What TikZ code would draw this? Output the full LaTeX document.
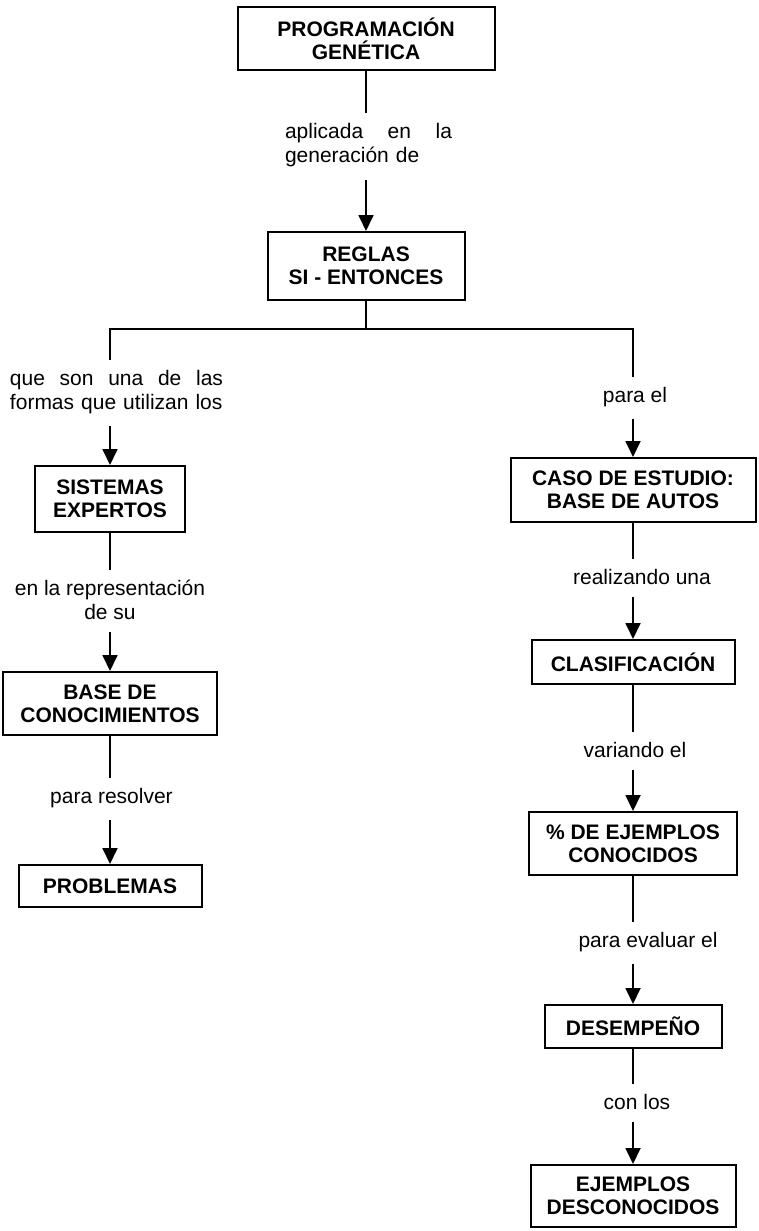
\documentclass[tikz,border=0pt]{standalone}
\usepackage{fontspec}
\setmainfont{Liberation Sans}
\usetikzlibrary{
  arrows.meta,
  positioning
}

\begin{document}
\begin{tikzpicture}[
    x=0.5pt, y=-0.5pt,
    >={Triangle[length=8pt,width=7.5pt]},
    caja/.style={draw, line width=1pt, align=center, inner sep=0pt,
      font=\fontsize{10.5}{11.5}\selectfont\bfseries},
    texto/.style={inner sep=0pt, align=center,
      font=\fontsize{10.5}{12}\selectfont},
    linea/.style={line width=0.9pt, shorten >=5pt},
    flecha/.style={->, line width=0.9pt, shorten <=6pt}
    ]
    
    \useasboundingbox (0,0) rectangle (759,1231);
    
    % centro
    \node[caja, minimum width=128.5pt, minimum height=31.5pt]
    (prog) at (366,38.5) {PROGRAMACIÓN\\GENÉTICA};
    
    \node[texto, text width=83.5pt, align=left]
    (laplicada) at (368.5,145.5) {aplicada\hfill en\hfill la\\generación de};
    
    \node[caja, minimum width=98.5pt, minimum height=34pt]
    (reglas) at (366,266) {REGLAS\\SI - ENTONCES};
    
    \coordinate (rama) at (366,329);
    
    % rama izquierda
    \node[texto, text width=106.5pt, align=left]
    (lqueson) at (116.5,392) {que\hfill son\hfill una\hfill de\hfill las\\formas que utilizan los};
    
    \node[caja, minimum width=75pt, minimum height=33pt]
    (sistemas) at (110,499) {SISTEMAS\\EXPERTOS};
    
    \node[texto] (lrepres) at (110,600) {en la representación\\de su};
    
    \node[caja, minimum width=107pt, minimum height=31.5pt]
    (basecon) at (110,703.5) {BASE DE\\CONOCIMIENTOS};
    
    \node[texto] (lresolver) at (111.5,798) {para resolver};
    
    \node[caja, minimum width=91.5pt, minimum height=21pt]
    (problemas) at (110,886) {PROBLEMAS};
    
    % rama derecha
    \node[texto] (lparael) at (635,397) {para el};
    
    \node[caja, minimum width=122.5pt, minimum height=32pt]
    (caso) at (633,490) {CASO DE ESTUDIO:\\BASE DE AUTOS};
    
    \node[texto] (lrealiza) at (642,577) {realizando una};
    
    \node[caja, minimum width=101.5pt, minimum height=22pt]
    (clasif) at (633,662) {CLASIFICACIÓN};
    
    \node[texto] (lvariando) at (635,750) {variando el};
    
    \node[caja, minimum width=104pt, minimum height=31.5pt]
    (pct) at (633,843.5) {\% DE EJEMPLOS\\CONOCIDOS};
    
    \node[texto] (levaluar) at (648,942) {para evaluar el};
    
    \node[caja, minimum width=88.5pt, minimum height=21.5pt]
    (desemp) at (633,1026.5) {DESEMPEÑO};
    
    \node[texto] (lconlos) at (637,1102) {con los};
    
    \node[caja, minimum width=102.5pt, minimum height=31pt]
    (ejemplos) at (633,1196) {EJEMPLOS\\DESCONOCIDOS};
    
    % conectores centro
    \draw[linea] (prog.south) -- (prog.south |- laplicada.north);
    \draw[flecha] (prog.south |- laplicada.south) -- (reglas.north);
    \draw[line width=0.9pt] (reglas.south) -- (rama);
    \draw[linea] (rama) -| (sistemas.north |- lqueson.north);
    \draw[linea] (rama) -| (caso.north |- lparael.north);
    
    % conectores izquierda
    \draw[flecha] (sistemas.north |- lqueson.south) -- (sistemas.north);
    \draw[linea] (sistemas.south) -- (sistemas.south |- lrepres.north);
    \draw[flecha] (sistemas.south |- lrepres.south) -- (basecon.north);
    \draw[linea] (basecon.south) -- (basecon.south |- lresolver.north);
    \draw[flecha] (basecon.south |- lresolver.south) -- (problemas.north);
    
    % conectores derecha
    \draw[flecha] (caso.north |- lparael.south) -- (caso.north);
    \draw[linea] (caso.south) -- (caso.south |- lrealiza.north);
    \draw[flecha] (caso.south |- lrealiza.south) -- (clasif.north);
    \draw[linea] (clasif.south) -- (clasif.south |- lvariando.north);
    \draw[flecha] (clasif.south |- lvariando.south) -- (pct.north);
    \draw[linea] (pct.south) -- (pct.south |- levaluar.north);
    \draw[flecha] (pct.south |- levaluar.south) -- (desemp.north);
    \draw[linea] (desemp.south) -- (desemp.south |- lconlos.north);
    \draw[flecha] (desemp.south |- lconlos.south) -- (ejemplos.north);
    
\end{tikzpicture}
\end{document}
